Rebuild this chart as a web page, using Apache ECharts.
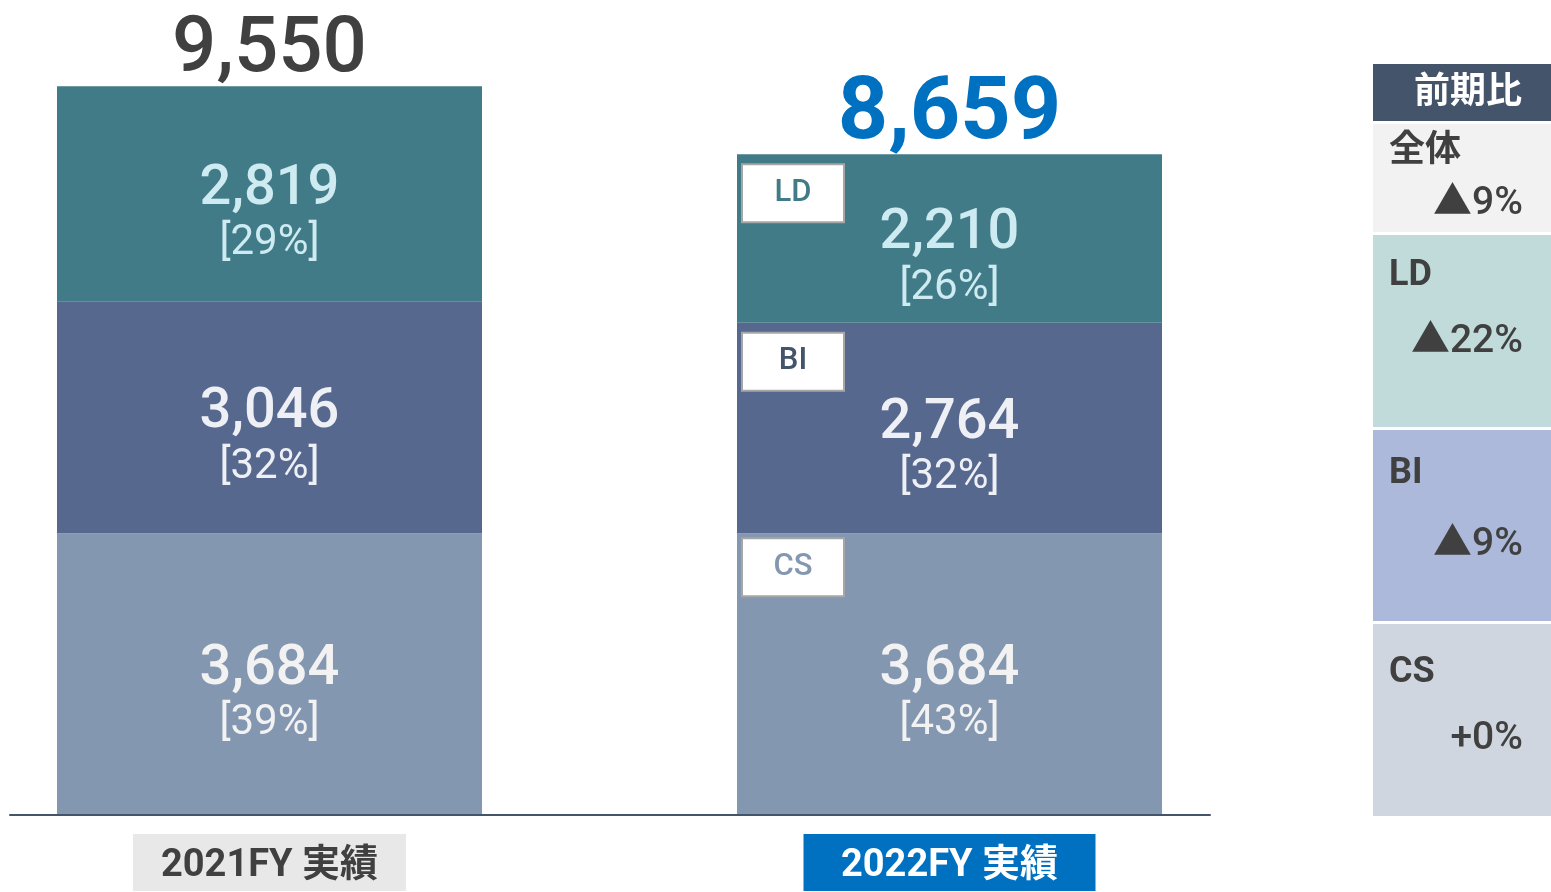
<!DOCTYPE html>
<html>
<head>
<meta charset="utf-8">
<script src="https://cdn.jsdelivr.net/npm/echarts@6/dist/echarts.min.js"></script>
<style>
  html, body { margin: 0; padding: 0; background: #ffffff; }
  #echarts { width: 1551px; height: 892px; }
</style>
</head>
<body>
<div id="echarts"></div>
<script>
//カテゴリ（年度）
var years = ['2021FY 実績', '2022FY 実績'];
//セグメント別の値
var ldValues = [2819, 2210];
var biValues = [3046, 2764];
var csValues = [3684, 3684];
//構成比（%）
var ldPct = [29, 26];
var biPct = [32, 32];
var csPct = [39, 43];
//合計
var totals = [9550, 8659];
//前期比パネル
var yoyNames = ['全体', 'LD', 'BI', 'CS'];
var yoyValues = ['▲9%', '▲22%', '▲9%', '+0%'];

var FONT = 'Roboto, "Noto Sans CJK JP", sans-serif';
var chart = echarts.init(document.getElementById('echarts'));

function fmt(v) {
  return v.toLocaleString('en-US');
}

//セグメントの棒
function segSeries(name, values, pcts, color, textColor) {
  return {
    name: name,
    type: 'bar',
    stack: 'main',
    barWidth: 425,
    barGap: '-100%',
    clip: false,
    data: values,
    itemStyle: { color: color },
    label: {
      show: true,
      position: 'inside',
      offset: [0, 17],
      formatter: function (p) {
        return '{v|' + fmt(p.value) + '}\n{p|[' + pcts[p.dataIndex] + '%]}';
      },
      rich: {
        v: { fontFamily: FONT, fontSize: 56, fontWeight: 500, lineHeight: 66, color: textColor },
        p: { fontFamily: FONT, fontSize: 42, fontWeight: 'normal', lineHeight: 42, color: textColor }
      }
    }
  };
}

//2022年度の左上のタグ
function tagSeries(name, values, textColor, offsetY) {
  return {
    name: name + '-tag',
    type: 'bar',
    stack: 'tag',
    barWidth: 425,
    barGap: '-100%',
    clip: false,
    silent: true,
    itemStyle: { color: 'rgba(0,0,0,0)' },
    data: values.map(function (v, i) {
      return { value: v, label: { show: i === 1 } };
    }),
    label: {
      position: 'insideTopLeft',
      distance: 6,
      offset: [0, offsetY],
      formatter: '{t|' + name + '}',
      rich: {
        t: {
          fontFamily: FONT, fontSize: 31, fontWeight: 500, color: textColor,
          backgroundColor: '#ffffff', borderColor: '#A6A6A6', borderWidth: 2,
          width: 100, height: 56, lineHeight: 56, align: 'center'
        }
      }
    }
  };
}

//前期比パネル
var panelX = 1373;
var panelW = 178;
var cellTops = [124, 235, 430, 624];
var cellHeights = [108, 192, 191, 192];
var cellColors = ['#F2F2F2', '#C0DBDA', '#ADB9DA', '#D0D6E0'];
var nameDy = [28, 41, 44, 49];
var valueDy = [80, 107, 115, 115];
var graphic = [
  { type: 'rect', shape: { x: panelX, y: 64, width: panelW, height: 57 }, style: { fill: '#44546A' } },
  { type: 'text', style: { text: '前期比', x: 1468, y: 94, align: 'center', verticalAlign: 'middle',
      font: 'bold 36px ' + FONT, fill: '#ffffff' } }
];
for (var i = 0; i < yoyNames.length; i++) {
  graphic.push({ type: 'rect', shape: { x: panelX, y: cellTops[i], width: panelW, height: cellHeights[i] },
    style: { fill: cellColors[i] } });
  graphic.push({ type: 'text', style: { text: yoyNames[i], x: 1389, y: cellTops[i] + nameDy[i],
    verticalAlign: 'middle', font: 'bold 36px ' + FONT, fill: '#404040' } });
  graphic.push({ type: 'text', style: { text: yoyValues[i], x: 1523, y: cellTops[i] + valueDy[i],
    align: 'right', verticalAlign: 'middle', font: '500 39px ' + FONT, fill: '#404040' } });
}

chart.setOption({
  animation: false,
  grid: [
    { left: 269.5, right: 601.5, top: 52, bottom: 78 },
    { left: 10, right: 341, top: 52, bottom: 77 }
  ],
  xAxis: [
    {
      type: 'category',
      gridIndex: 0,
      data: years,
      boundaryGap: false,
      axisLine: { show: false },
      axisTick: { show: false },
      splitLine: { show: false },
      axisLabel: {
        margin: 24,
        formatter: function (v, idx) {
          return idx === 0 ? '{a|' + v + '}' : '{b|' + v + '}';
        },
        rich: {
          a: { fontFamily: FONT, fontSize: 38, fontWeight: 'bold', color: '#404040', backgroundColor: '#E8E8E8',
               width: 273, height: 49, lineHeight: 49, padding: [8, 0, 0, 0], align: 'center' },
          b: { fontFamily: FONT, fontSize: 38, fontWeight: 'bold', color: '#ffffff', backgroundColor: '#0070C0',
               width: 292, height: 49, lineHeight: 49, padding: [8, 0, 0, 0], align: 'center' }
        }
      }
    },
    {
      type: 'value',
      gridIndex: 1,
      min: 0,
      max: 1,
      axisLine: { show: true, lineStyle: { color: '#44546A', width: 2 } },
      axisTick: { show: false },
      axisLabel: { show: false },
      splitLine: { show: false }
    }
  ],
  yAxis: [
    { type: 'value', gridIndex: 0, min: 0, max: 10000, show: false, splitLine: { show: false } },
    { type: 'value', gridIndex: 1, min: 0, max: 1, show: false, splitLine: { show: false } }
  ],
  graphic: graphic,
  series: [
    segSeries('CS', csValues, csPct, '#8497B0', '#F2F2F2'),
    segSeries('BI', biValues, biPct, '#56688E', '#EEF0F5'),
    segSeries('LD', ldValues, ldPct, '#427B88', '#CDEBF1'),
    tagSeries('CS', csValues, '#8497B0', 0),
    tagSeries('BI', biValues, '#44546A', 5),
    tagSeries('LD', ldValues, '#427B88', 5),
    {
      name: '合計',
      type: 'scatter',
      symbolSize: 1,
      clip: false,
      itemStyle: { color: 'rgba(0,0,0,0)', opacity: 1 },
      data: totals.map(function (v, i) {
        return {
          value: v,
          label: i === 0
            ? { color: '#404040', fontSize: 78, fontWeight: 500, distance: -5 }
            : { color: '#0070C0', fontSize: 88, fontWeight: 'bold', distance: -6 }
        };
      }),
      label: {
        show: true,
        position: 'top',
        fontFamily: FONT,
        formatter: function (p) { return fmt(p.value); }
      },
      z: 5
    }
  ]
});
</script>
</body>
</html>
